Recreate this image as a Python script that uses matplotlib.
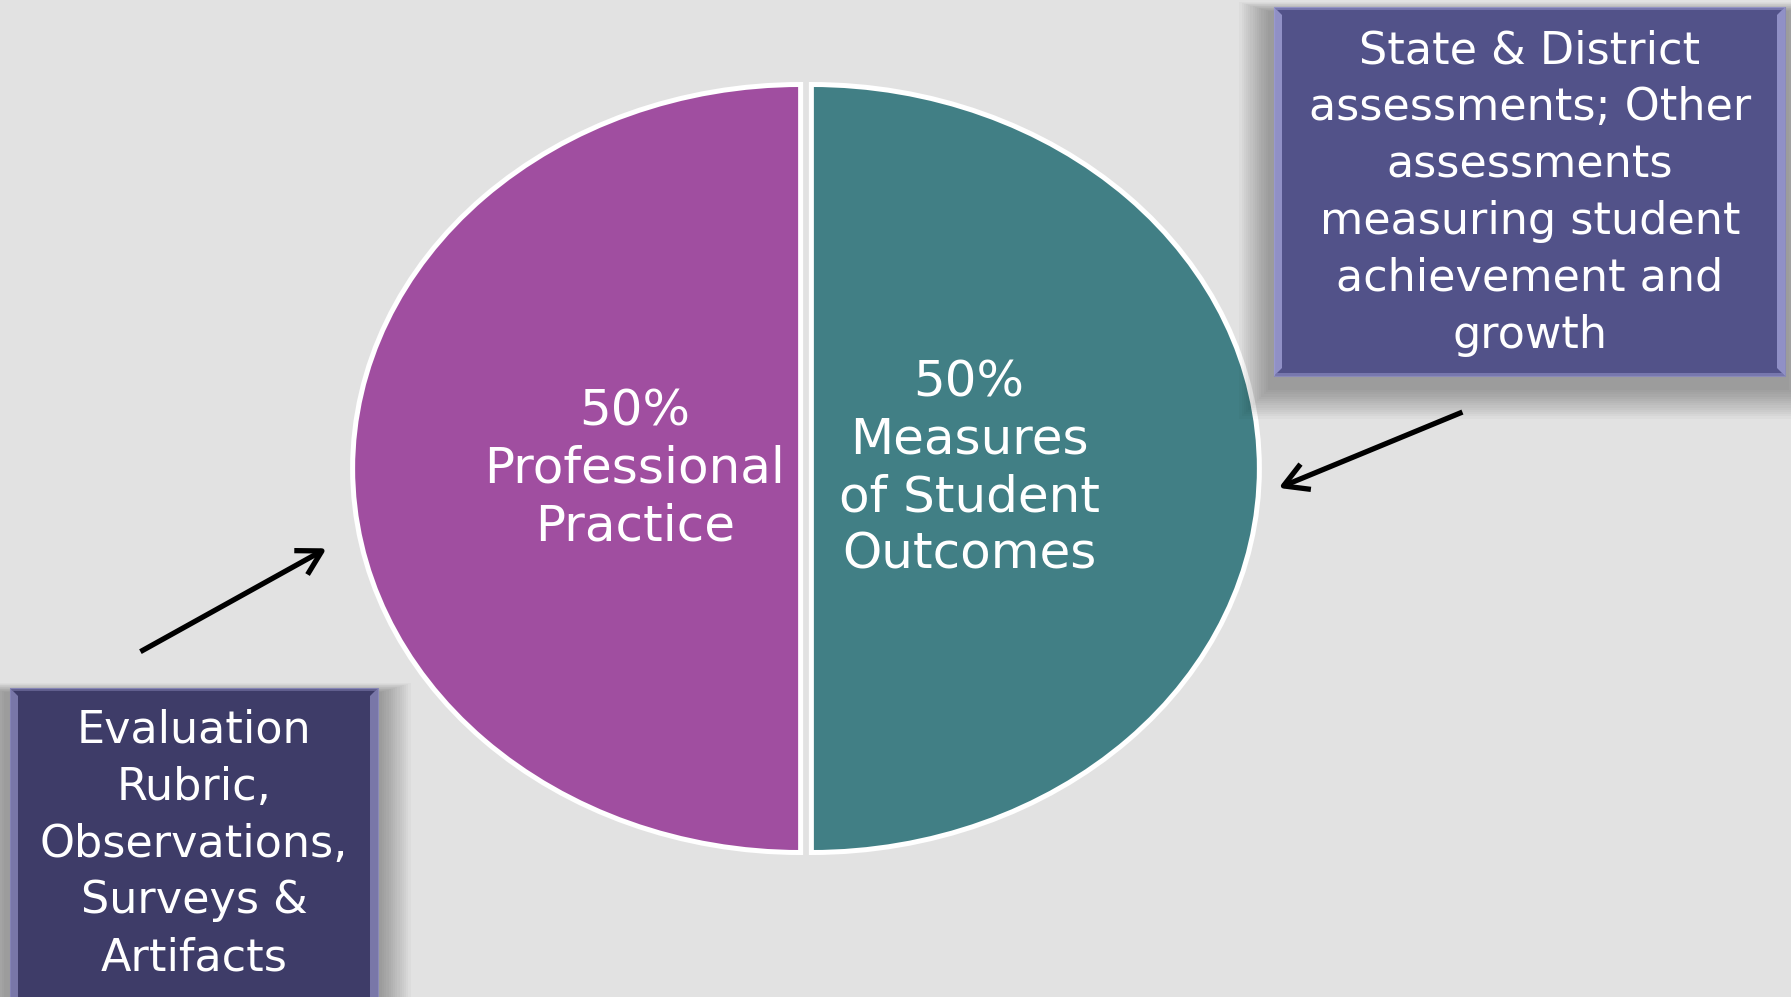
import matplotlib.pyplot as plt
from matplotlib.patches import Rectangle, Polygon, FancyArrowPatch

# data
slice_labels = ['50%\nProfessional\nPractice', '50%\nMeasures\nof Student\nOutcomes']
slice_values = [50, 50]
slice_colors = ['#a04ea0', '#417f85']

box_right_text = 'State & District\nassessments; Other\nassessments\nmeasuring student\nachievement and\ngrowth'
box_left_text = 'Evaluation\nRubric,\nObservations,\nSurveys &\nArtifacts'

W, H = 1791, 997
bg = '#e2e2e2'

fig = plt.figure(figsize=(W / 100, H / 100), dpi=100, facecolor=bg)

# pie axes, stretched so the pie becomes an ellipse
cx, cy, rx, ry = 806, 468.5, 448, 384
ax = fig.add_axes([(cx - 1.2 * rx) / W, (H - cy - 1.2 * ry) / H, 2.4 * rx / W, 2.4 * ry / H])
ax.set_zorder(1)
ax.patch.set_alpha(0)
wedges, texts = ax.pie(slice_values, labels=slice_labels, colors=slice_colors,
                       startangle=90, counterclock=True, explode=[0.012, 0.012],
                       labeldistance=0.37,
                       wedgeprops=dict(edgecolor='white', linewidth=3.6),
                       textprops=dict(color='white', fontsize=36, linespacing=1.25))
for t in texts:
    t.set_ha('center')
    t.set_va('center')
# right label sits a bit closer to the middle
x, y = texts[1].get_position()
texts[1].set_position((x - 0.018, y))
ax.set_aspect('auto')
ax.set_xlim(-1.2, 1.2)
ax.set_ylim(-1.2, 1.2)
ax.axis('off')

# overlay in pixel coords
ov = fig.add_axes([0, 0, 1, 1])
ov.set_zorder(2)
ov.patch.set_alpha(0)
ov.set_xlim(0, W)
ov.set_ylim(H, 0)
ov.axis('off')


def box(x0, y0, x1, y1, fill, bevel):
    # soft drop shadow
    for i in range(14):
        g = 2.2 * i
        ov.add_patch(Rectangle((x0 - 6 - g, y0 + 4 - g * 0.3), (x1 - x0) + 10 + 2 * g, (y1 - y0) + 10 + g * 1.3,
                               facecolor='black', edgecolor='none', alpha=0.022))
    ov.add_patch(Rectangle((x0, y0), x1 - x0, y1 - y0, facecolor=fill, edgecolor='#8a8ab8', lw=0.8))
    b = 8
    ov.add_patch(Polygon([(x0, y0), (x0 + b, y0 + b), (x0 + b, y1 - b), (x0, y1)],
                         facecolor=bevel, edgecolor='none', alpha=0.85))
    ov.add_patch(Polygon([(x1, y0), (x1 - b, y0 + b), (x1 - b, y1 - b), (x1, y1)],
                         facecolor=bevel, edgecolor='none', alpha=0.85))
    ov.add_patch(Polygon([(x0, y0), (x1, y0), (x1 - 3, y0 + 3), (x0 + 3, y0 + 3)],
                         facecolor=bevel, edgecolor='none', alpha=0.5))
    ov.add_patch(Polygon([(x0, y1), (x1, y1), (x1 - 3, y1 - 3), (x0 + 3, y1 - 3)],
                         facecolor=bevel, edgecolor='none', alpha=0.5))


box(1274, 7, 1785, 376, '#525289', '#9c9cd2')
ov.text(1530, 193, box_right_text, color='white', fontsize=32, ha='center', va='center', linespacing=1.41)

box(10, 688, 378, 1010, '#3e3c68', '#8482b4')
ov.text(194, 844, box_left_text, color='white', fontsize=32, ha='center', va='center', linespacing=1.41)

# arrows
for tail, tip in [((1465, 411), (1276, 489)), ((138, 653), (329, 547))]:
    ov.add_patch(FancyArrowPatch(tail, tip, arrowstyle='->,head_length=0.72,head_width=0.41',
                                 mutation_scale=24, color='black', lw=3.8, capstyle='butt'))

fig.savefig('out.png', dpi=100, facecolor=bg)
